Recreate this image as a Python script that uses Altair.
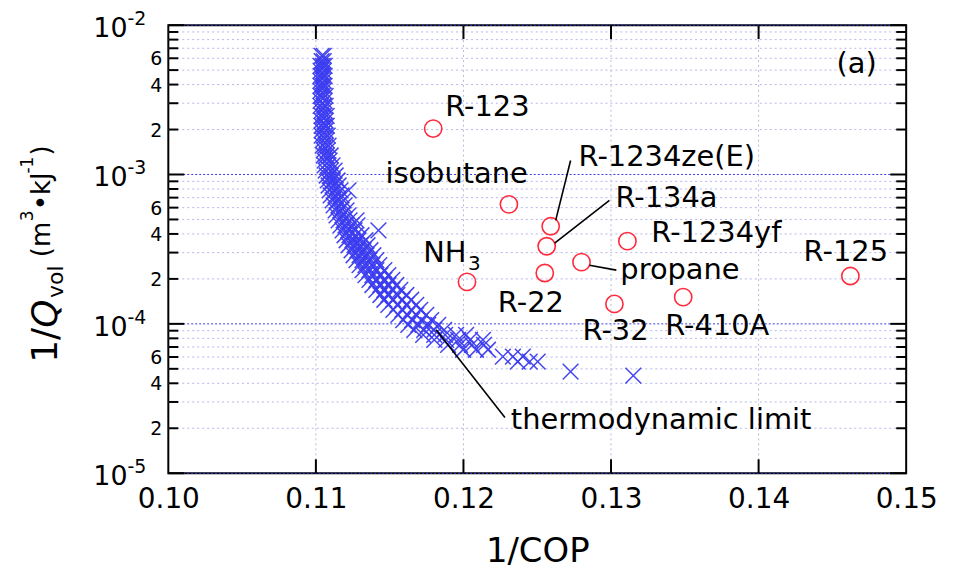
import altair as alt
import pandas as pd

# ---------------- data ----------------
# thermodynamic-limit points (1/COP, 1/Qvol), read row by row along the band
limit_cop = [
    0.11039, 0.11053,
    0.11039, 0.11053,
    0.11032, 0.11053,
    0.11032, 0.11053,
    0.11032, 0.11053,
    0.11032, 0.11059,
    0.11039, 0.11059,
    0.11039, 0.11066,
    0.11039, 0.11066,
    0.11046, 0.11073,
    0.11053, 0.11080,
    0.11059, 0.11093,
    0.11066, 0.11100, 0.11127,
    0.11080, 0.11113, 0.11147,
    0.11093, 0.11127, 0.11167, 0.11221,
    0.11113, 0.11147, 0.11188,
    0.11134, 0.11167, 0.11208,
    0.11154, 0.11188, 0.11228, 0.11275,
    0.11181, 0.11221, 0.11262, 0.11424,
    0.11208, 0.11248, 0.11289, 0.11336,
    0.11242, 0.11282, 0.11323, 0.11370,
    0.11275, 0.11316, 0.11363, 0.11410,
    0.11316, 0.11363, 0.11410, 0.11464,
    0.11363, 0.11410, 0.11464, 0.11518,
    0.11410, 0.11464, 0.11518, 0.11572,
    0.11464, 0.11525, 0.11586, 0.11646,
    0.11525, 0.11586, 0.11646, 0.11707,
    0.11592, 0.11653, 0.11714, 0.11781,
    0.11667, 0.11734, 0.11802, 0.11869,
    0.11802, 0.11883, 0.11964, 0.12045, 0.12132,
    0.11997, 0.12085, 0.12166,
    0.12267, 0.12335, 0.12402,
    0.12368, 0.12449, 0.12503,
    0.12726,
    0.13151,
]
limit_q = [
    6.22e-3, 6.22e-3,
    5.75e-3, 5.75e-3,
    4.94e-3, 4.94e-3,
    4.23e-3, 4.23e-3,
    3.63e-3, 3.63e-3,
    3.11e-3, 3.11e-3,
    2.67e-3, 2.67e-3,
    2.29e-3, 2.29e-3,
    1.97e-3, 1.97e-3,
    1.69e-3, 1.69e-3,
    1.45e-3, 1.45e-3,
    1.24e-3, 1.24e-3,
    1.06e-3, 1.06e-3, 1.06e-3,
    9.12e-4, 9.12e-4, 9.12e-4,
    7.82e-4, 7.82e-4, 7.82e-4, 7.82e-4,
    6.71e-4, 6.71e-4, 6.71e-4,
    5.75e-4, 5.75e-4, 5.75e-4,
    4.93e-4, 4.93e-4, 4.93e-4, 4.93e-4,
    4.23e-4, 4.23e-4, 4.23e-4, 4.23e-4,
    3.63e-4, 3.63e-4, 3.63e-4, 3.63e-4,
    3.11e-4, 3.11e-4, 3.11e-4, 3.11e-4,
    2.67e-4, 2.67e-4, 2.67e-4, 2.67e-4,
    2.29e-4, 2.29e-4, 2.29e-4, 2.29e-4,
    1.97e-4, 1.97e-4, 1.97e-4, 1.97e-4,
    1.69e-4, 1.69e-4, 1.69e-4, 1.69e-4,
    1.45e-4, 1.45e-4, 1.45e-4, 1.45e-4,
    1.24e-4, 1.24e-4, 1.24e-4, 1.24e-4,
    1.06e-4, 1.06e-4, 1.06e-4, 1.06e-4,
    9.12e-5, 9.12e-5, 9.12e-5, 9.12e-5,
    7.82e-5, 7.82e-5, 7.82e-5, 7.82e-5, 7.82e-5,
    6.71e-5, 6.71e-5, 6.71e-5,
    6.03e-5, 6.03e-5, 6.03e-5,
    5.58e-5, 5.58e-5, 5.58e-5,
    4.79e-5,
    4.50e-5,
]
# further points of the dense band, between the rows above
limit2_cop = [
    0.11032, 0.11046, 0.11059,
    0.11032, 0.11046, 0.11059,
    0.11032, 0.11046, 0.11059,
    0.11032, 0.11046, 0.11066,
    0.11032, 0.11053, 0.11066,
    0.11039, 0.11053, 0.11073,
    0.11039, 0.11059, 0.11073,
    0.11039, 0.11059, 0.11080,
    0.11046, 0.11066, 0.11086,
    0.11053, 0.11073, 0.11100,
    0.11059, 0.11086, 0.11113,
    0.11073, 0.11100, 0.11134,
    0.11086, 0.11120, 0.11154,
    0.11100, 0.11134, 0.11174,
    0.11120, 0.11154, 0.11194,
    0.11140, 0.11181, 0.11221,
    0.11167, 0.11201, 0.11242, 0.11282,
    0.11194, 0.11228, 0.11269, 0.11309,
    0.11221, 0.11262, 0.11302, 0.11350,
    0.11255, 0.11296, 0.11343, 0.11390,
    0.11296, 0.11336, 0.11383, 0.11430,
    0.11336, 0.11383, 0.11437, 0.11491,
    0.11383, 0.11437, 0.11491, 0.11545,
    0.11437, 0.11491, 0.11552, 0.11613,
    0.11491, 0.11552, 0.11613, 0.11680,
    0.11559, 0.11620, 0.11680, 0.11748,
    0.11626, 0.11694, 0.11761, 0.11829,
    0.11727, 0.11802, 0.11876, 0.11950, 0.12018,
    0.11896, 0.11977, 0.12058, 0.12139,
]
limit2_q = [
    5.33e-3, 5.33e-3, 5.33e-3,
    4.57e-3, 4.57e-3, 4.57e-3,
    3.92e-3, 3.92e-3, 3.92e-3,
    3.36e-3, 3.36e-3, 3.36e-3,
    2.88e-3, 2.88e-3, 2.88e-3,
    2.47e-3, 2.47e-3, 2.47e-3,
    2.12e-3, 2.12e-3, 2.12e-3,
    1.82e-3, 1.82e-3, 1.82e-3,
    1.56e-3, 1.56e-3, 1.56e-3,
    1.34e-3, 1.34e-3, 1.34e-3,
    1.15e-3, 1.15e-3, 1.15e-3,
    9.85e-4, 9.85e-4, 9.85e-4,
    8.44e-4, 8.44e-4, 8.44e-4,
    7.24e-4, 7.24e-4, 7.24e-4,
    6.21e-4, 6.21e-4, 6.21e-4,
    5.33e-4, 5.33e-4, 5.33e-4,
    4.57e-4, 4.57e-4, 4.57e-4, 4.57e-4,
    3.92e-4, 3.92e-4, 3.92e-4, 3.92e-4,
    3.36e-4, 3.36e-4, 3.36e-4, 3.36e-4,
    2.88e-4, 2.88e-4, 2.88e-4, 2.88e-4,
    2.47e-4, 2.47e-4, 2.47e-4, 2.47e-4,
    2.12e-4, 2.12e-4, 2.12e-4, 2.12e-4,
    1.82e-4, 1.82e-4, 1.82e-4, 1.82e-4,
    1.56e-4, 1.56e-4, 1.56e-4, 1.56e-4,
    1.34e-4, 1.34e-4, 1.34e-4, 1.34e-4,
    1.15e-4, 1.15e-4, 1.15e-4, 1.15e-4,
    9.85e-5, 9.85e-5, 9.85e-5, 9.85e-5,
    8.44e-5, 8.44e-5, 8.44e-5, 8.44e-5, 8.44e-5,
    7.24e-5, 7.24e-5, 7.24e-5, 7.24e-5,
]

# refrigerants
ref_names = ["R-123", "isobutane", "R-1234ze(E)", "R-134a", "R-1234yf", "propane",
             "R-22", "NH3", "R-32", "R-410A", "R-125"]
ref_cop = [0.11795, 0.12308, 0.12591, 0.12564, 0.13111, 0.12800,
           0.12551, 0.12024, 0.13023, 0.13489, 0.14622]
ref_q = [2.03e-3, 6.31e-4, 4.50e-4, 3.31e-4, 3.58e-4, 2.59e-4,
         2.19e-4, 1.91e-4, 1.36e-4, 1.51e-4, 2.09e-4]

# annotation labels
label_text = ["R-123", "isobutane", "R-1234ze(E)", "R-134a", "R-1234yf", "propane",
              "R-22", "NH", "R-32", "R-410A", "R-125", "thermodynamic limit", "(a)"]
label_cop = [0.11876, 0.11471, 0.12780, 0.13030, 0.13273, 0.13063,
             0.12233, 0.11727, 0.12807, 0.13367, 0.14305, 0.12321, 0.14528]
label_q = [2.84e-3, 1.00e-3, 1.30e-3, 6.92e-4, 4.04e-4, 2.29e-4,
           1.38e-4, 2.97e-4, 8.98e-5, 9.70e-5, 3.02e-4, 2.26e-5, 5.50e-3]
# subscript of NH3
sub_text = ["3"]
sub_cop = [0.12031]
sub_q = [2.51e-4]

# leader lines
leader_cop = [0.12726, 0.12989, 0.12854, 0.11815]
leader_q = [1.24e-3, 6.71e-4, 2.47e-4, 9.12e-5]
leader_cop2 = [0.12625, 0.12618, 0.13036, 0.12281]
leader_q2 = [4.93e-4, 3.47e-4, 2.29e-4, 2.36e-5]

# axis ticks
x_ticks = [0.10, 0.11, 0.12, 0.13, 0.14, 0.15]
x_inner_ticks = [0.11, 0.12, 0.13, 0.14]
y_decades = [1e-5, 1e-4, 1e-3, 1e-2]
y_decade_exp = ["-5", "-4", "-3", "-2"]
y_minor = [k * d for d in [1e-5, 1e-4, 1e-3] for k in range(2, 10)]
y_minor_labeled = [k * d for d in [1e-5, 1e-4, 1e-3] for k in (2, 4, 6)]
y_minor_label_text = [str(k) for d in [1e-5, 1e-4, 1e-3] for k in (2, 4, 6)]

# ---------------- chart ----------------
W, H = 741, 450
FONT = "DejaVu Sans"
xscale = alt.Scale(domain=[0.10, 0.15], nice=False, zero=False)
yscale = alt.Scale(type="log", domain=[1e-5, 1e-2], nice=False)
x_axis = alt.Axis(
    values=x_ticks, format=".2f", labelFont=FONT, labelFontSize=28, labelColor="black",
    labelFlush=False, labelOverlap=False, labelPadding=12, ticks=False, domain=False, grid=False,
    title="1/COP", titleFont=FONT, titleFontSize=34, titleFontWeight="normal",
    titleColor="black", titlePadding=22)

def Y(field):
    return alt.Y(field, type="quantitative", scale=yscale, axis=None)

def X(field):
    return alt.X(field, type="quantitative", scale=xscale, axis=x_axis)

minor_df = pd.DataFrame({"v": y_minor})
dec_df = pd.DataFrame({"v": y_decades, "e": y_decade_exp, "t": ["10"] * 4})
xin_df = pd.DataFrame({"v": x_inner_ticks})

grid_minor = alt.Chart(minor_df).mark_rule(color="#b3b6ee", strokeDash=[2, 3], strokeWidth=1).encode(y=Y("v"))
grid_major = alt.Chart(dec_df).mark_rule(color="#3b3bdc", strokeDash=[2, 2], strokeWidth=1).encode(y=Y("v"))
grid_x = alt.Chart(xin_df).mark_rule(color="#b8bad8", strokeDash=[2, 3], strokeWidth=1).encode(x=X("v"))

limit_df = pd.DataFrame({"cop": limit_cop + limit2_cop, "q": limit_q + limit2_q})
crosses = alt.Chart(limit_df).mark_point(
    shape="M-1,-1L1,1M-1,1L1,-1", filled=False, size=250, strokeWidth=1.5,
    stroke="#3c3cf0", color="#3c3cf0", opacity=0.95
).encode(x=X("cop"), y=Y("q"))

ref_df = pd.DataFrame({"name": ref_names, "cop": ref_cop, "q": ref_q})
circles = alt.Chart(ref_df).mark_point(
    shape="circle", filled=False, size=300, strokeWidth=1.6, stroke="#ff2a3c", color="#ff2a3c", opacity=1
).encode(x=X("cop"), y=Y("q"))

lead_df = pd.DataFrame({"c1": leader_cop, "q1": leader_q, "c2": leader_cop2, "q2": leader_q2})
leaders = alt.Chart(lead_df).mark_rule(color="black", strokeWidth=1.6).encode(
    x=X("c1"), y=Y("q1"), x2="c2", y2="q2")

lab_df = pd.DataFrame({"t": label_text, "cop": label_cop, "q": label_q})
labels = alt.Chart(lab_df).mark_text(
    align="left", baseline="middle", font=FONT, fontSize=29, color="black"
).encode(x=X("cop"), y=Y("q"), text="t:N")
sub_df = pd.DataFrame({"t": sub_text, "cop": sub_cop, "q": sub_q})
sublabels = alt.Chart(sub_df).mark_text(
    align="left", baseline="middle", font=FONT, fontSize=20, color="black"
).encode(x=X("cop"), y=Y("q"), text="t:N")

# inward ticks
tick_l_major = alt.Chart(dec_df).mark_rule(color="black", strokeWidth=2).encode(
    y=Y("v"), x=alt.value(0), x2=alt.value(16))
tick_r_major = alt.Chart(dec_df).mark_rule(color="black", strokeWidth=2).encode(
    y=Y("v"), x=alt.value(W - 16), x2=alt.value(W))
tick_l_minor = alt.Chart(minor_df).mark_rule(color="black", strokeWidth=2).encode(
    y=Y("v"), x=alt.value(0), x2=alt.value(10))
tick_r_minor = alt.Chart(minor_df).mark_rule(color="black", strokeWidth=2).encode(
    y=Y("v"), x=alt.value(W - 10), x2=alt.value(W))
tick_b = alt.Chart(xin_df).mark_rule(color="black", strokeWidth=2).encode(
    x=X("v"), y=alt.value(H - 14), y2=alt.value(H))
tick_t = alt.Chart(xin_df).mark_rule(color="black", strokeWidth=2).encode(
    x=X("v"), y=alt.value(0), y2=alt.value(14))

# y tick labels
ylab_ten = alt.Chart(dec_df).mark_text(
    align="right", baseline="middle", font=FONT, fontSize=27, color="black", dy=4
).encode(y=Y("v"), x=alt.value(-41), text="t:N")
ylab_exp = alt.Chart(dec_df).mark_text(
    align="left", baseline="middle", font=FONT, fontSize=19, color="black", dy=-6
).encode(y=Y("v"), x=alt.value(-41), text="e:N")
minlab_df = pd.DataFrame({"v": y_minor_labeled, "t": y_minor_label_text})
ylab_minor = alt.Chart(minlab_df).mark_text(
    align="right", baseline="middle", font=FONT, fontSize=19, color="black", dy=1
).encode(y=Y("v"), x=alt.value(-6), text="t:N")

# y title pieces (rotated)
def seg(text, size, x, y, italic=False):
    return alt.Chart(pd.DataFrame({"t": [text]})).mark_text(
        angle=270, align="left", baseline="alphabetic", font=FONT, fontSize=size,
        fontStyle="italic" if italic else "normal", color="black"
    ).encode(text="t:N", x=alt.value(x), y=alt.value(y))

ytitle = [
    seg("1/", 36, -112, 339),
    seg("Q", 36, -112, 304, italic=True),
    seg("vol", 22, -106, 274),
    seg("(m", 26, -119, 233),
    seg("3", 17, -136, 197),
    seg("•kJ", 26, -119, 186),
    seg("-1", 17, -136, 149),
    seg(")", 26, -119, 131),
]

chart = alt.layer(
    grid_minor, grid_major, grid_x, crosses, circles, leaders, labels, sublabels,
    tick_l_major, tick_r_major, tick_l_minor, tick_r_minor, tick_b, tick_t,
    ylab_ten, ylab_exp, ylab_minor, *ytitle
).properties(
    width=W, height=H,
    autosize=alt.AutoSizeParams(type="none"),
    padding={"left": 161, "top": 16, "right": 40, "bottom": 100},
    background="white",
).configure_view(stroke="black", strokeWidth=2)

chart.save("out.html", embed_options={"renderer": "svg", "actions": False})
